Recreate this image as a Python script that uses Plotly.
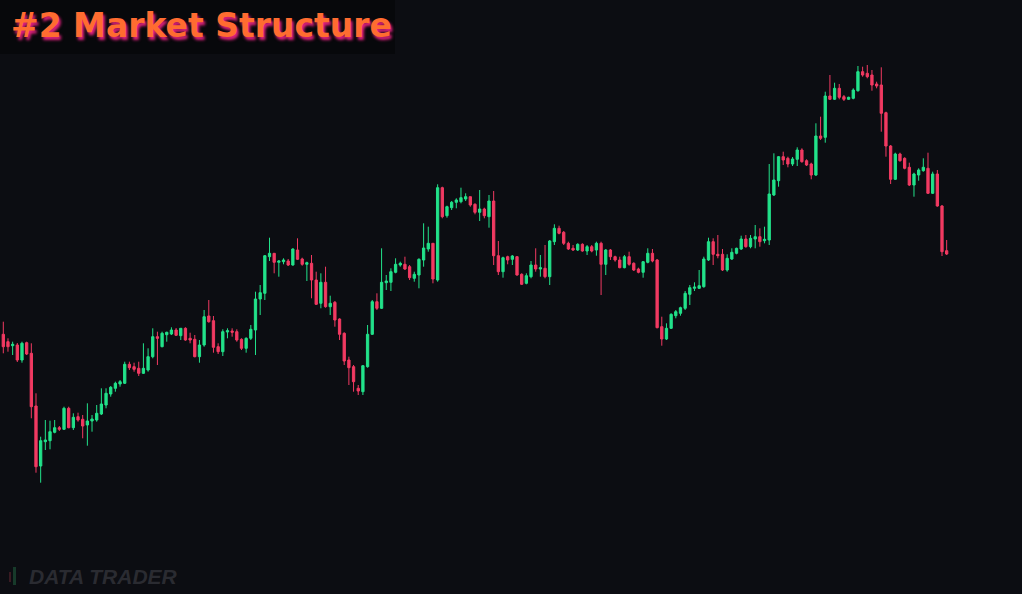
import plotly.graph_objects as go

# OHLC values (arbitrary price units)
opens = [265.7, 258.3, 254.3, 255, 240, 257.3, 246.7, 194, 134, 158.3,
         159.3, 167.7, 172.3, 170.7, 191.7, 172.3, 183.3, 180.7, 175, 179,
         180, 186, 195, 206, 211.7, 216, 216.7, 235.7, 233.3, 231.7,
         226.7, 230, 243.3, 263.3, 253.3, 265.3, 266, 270, 264.3, 271.7,
         261.7, 260.7, 243.3, 255, 284, 279.3, 253.3, 248.3, 268, 269,
         268.3, 260.7, 251.7, 261.7, 270, 301, 306.7, 343.3, 346.7, 337.7,
         338.3, 339, 335, 350, 341, 335.7, 336.7, 320, 296.7, 317.7,
         293.3, 297.7, 281, 266.7, 240, 233.3, 211.7, 208.3, 233.3, 265.7,
         298.3, 291.7, 317.3, 317.7, 327.7, 335, 335.7, 333.3, 321.7, 325,
         340, 351, 356.7, 320, 412.3, 384.3, 392.3, 397.7, 398.3, 401,
         403.3, 395.7, 387.7, 391, 383.3, 399, 344.3, 328.3, 343.3, 340.7,
         343.3, 325.7, 316.7, 323.3, 335, 331, 331.7, 323.3, 358.3, 371.7,
         367.7, 356.7, 351.7, 350, 355.7, 349, 353.3, 350, 356.7, 335.7,
         350, 343.3, 340, 332.3, 343.3, 336.7, 331, 327.7, 337.7, 346.7,
         340, 273.3, 261, 271.7, 284.3, 286.7, 291.7, 305.7, 311.7, 311.7,
         313.3, 340, 358.3, 345.7, 345.7, 330, 341, 346.7, 351, 361,
         353.3, 361, 363.3, 359.3, 360, 405, 419.3, 443.3, 441.7, 436,
         440.7, 450, 439.3, 436, 425, 464, 462.7, 504, 500.7, 511.7,
         503.3, 500.7, 501.7, 509.3, 528.3, 526.7, 525, 516, 515, 487.3,
         454, 420.7, 446, 441.7, 432.7, 415, 425, 429.3, 431.7, 406.7,
         426, 394, 349.3]
highs = [278.3, 261.7, 258.3, 257, 258.3, 258.3, 256.7, 206.7, 163.3, 180,
         179.3, 180, 174, 193.3, 193.3, 186.7, 187.3, 185, 196.7, 185,
         195, 211.7, 211.7, 214, 218.3, 220, 238.3, 238.3, 237.3, 238.3,
         256.7, 251.7, 271.7, 268.3, 268.3, 268.3, 272.7, 272, 271.7, 272.7,
         267.3, 265, 260, 290, 300, 284, 256.7, 270.7, 271.7, 271.7,
         270.7, 261.7, 262.7, 275, 308.3, 315, 345, 362.3, 346.7, 340,
         341.7, 341, 351.7, 361.7, 342.3, 338.3, 345, 328.3, 326.7, 333.3,
         304.3, 299, 281.7, 267.7, 243.3, 235, 215, 235, 275, 300,
         306.7, 351.7, 325, 331.7, 341.7, 338.3, 343.3, 335, 328.3, 341.7,
         376.7, 373.3, 356.7, 415.7, 413.3, 394.3, 399, 401.7, 412.3, 406.7,
         403.3, 396.7, 410, 392.3, 405, 409, 359, 343.3, 344.3, 345,
         344, 326.7, 326.7, 339, 351.7, 345, 355, 360, 375.7, 374.3,
         369, 358.3, 355, 356.7, 356.7, 355, 355, 358.3, 358.3, 351,
         351, 344.3, 343.3, 345, 348.3, 337.7, 332.3, 339, 351.7, 351,
         341, 283.3, 276.7, 286.7, 290, 293.3, 309, 315, 317.7, 330,
         343.3, 362.3, 361.7, 365, 351, 345.7, 351.7, 352.3, 364.3, 365,
         365, 375, 371.7, 373.3, 436, 446.7, 444, 448.3, 443.3, 443,
         452.7, 451.7, 440.7, 437.3, 476.7, 483.3, 508.3, 525, 517.3, 516,
         505, 503.3, 511.7, 534, 533.3, 535, 530, 518.3, 532.7, 488.3,
         455, 447.3, 447.3, 442.7, 437.3, 427.3, 431.7, 441.7, 447.3, 428.3,
         430, 395, 360]
lows = [246.7, 248.3, 245, 238, 237.3, 245, 181.7, 127.3, 117.3, 150,
        150.7, 166.7, 169, 170, 171.7, 170, 178.3, 161.7, 154.3, 168.3,
        178.3, 185, 191.7, 203.3, 208.3, 213.3, 216, 230, 228.3, 224,
        226, 228.3, 241.7, 235, 252.7, 258.3, 265, 264, 260, 259.3,
        256.7, 242.7, 237.3, 253.3, 277.3, 247.3, 246, 244, 261.7, 263.3,
        258.3, 250, 247.3, 260, 245, 285, 300, 339, 326.7, 323.3,
        335.7, 334, 334.3, 340, 334.3, 319, 301.7, 295, 291.7, 292.3,
        285, 273.3, 260, 235, 215, 208.3, 205, 205, 232.3, 265,
        290, 291, 310, 309, 326.7, 333.3, 330, 320, 318.3, 311.7,
        333.3, 348.3, 316.7, 318.3, 381.7, 382.3, 390, 391.7, 396.7, 399,
        393.3, 385.7, 379, 381.7, 372.3, 335, 325, 322.3, 335.7, 335,
        324.3, 315, 315.7, 321.7, 328.3, 323.3, 321.7, 315, 355, 365.7,
        355, 350, 349, 349, 348.3, 345, 347.7, 344.3, 305, 325,
        340, 338.3, 331.7, 331.7, 334.3, 329, 326.7, 322.3, 336.7, 337.7,
        271.7, 254.3, 260, 271, 281.7, 284.3, 290, 295, 309, 311,
        312.3, 339, 335, 341.7, 329, 328.3, 340, 345.7, 350, 352.3,
        351.7, 351.7, 353.3, 356.7, 355, 404, 413.3, 435, 432.7, 434,
        434, 437.3, 434, 420.7, 424, 460, 457.3, 500, 500, 500.7,
        499, 500, 500.7, 508.3, 523.3, 521.7, 509.3, 511.7, 468.3, 443.3,
        416, 420, 438.3, 430.7, 414, 403.3, 419.3, 428.3, 406, 406,
        393.3, 344, 345]
closes = [253.3, 253.3, 255.7, 240, 256.7, 246, 193.3, 133.3, 159.3, 160,
          168.3, 172.3, 170.7, 191.7, 172.3, 182.7, 180, 174, 179, 181,
          186.7, 196, 206.7, 212.7, 216.7, 218.3, 235.7, 232.3, 230.7, 226.7,
          231.7, 243.3, 263.3, 261.7, 266.7, 267.7, 270, 264.7, 271.7, 260,
          260, 243.3, 255, 283.3, 278.3, 252.7, 248.3, 268.3, 269.3, 267.7,
          260, 251.7, 261.7, 270.7, 301, 307.3, 344.3, 346.7, 337.7, 339,
          340, 335, 351, 340.7, 335.7, 337.3, 320, 295.7, 317.7, 293.3,
          296.7, 280, 265.7, 239, 232.3, 218.3, 209, 234.3, 265.7, 298.3,
          291.7, 317.7, 319, 328.3, 335.7, 336.7, 331, 322.3, 325.7, 340.7,
          352, 356.7, 321, 412.3, 383.3, 393.3, 397.7, 400, 402.3, 403.3,
          395, 387.7, 391, 384.3, 399, 344.3, 328.3, 342.3, 340, 344,
          325, 315.7, 324.3, 335, 331, 332.3, 323.3, 359, 371.7, 366.7,
          356.7, 351, 350, 355.7, 349, 353.3, 349, 356.7, 335.7, 350,
          343.3, 340, 332.3, 343.3, 335.7, 330, 327.7, 338.3, 346.7, 339,
          272.3, 261, 271.7, 285.7, 288.3, 292.3, 306.7, 312.3, 313, 314.3,
          341, 358.3, 345.7, 344.3, 330, 341.7, 347.7, 351.7, 361, 353.3,
          361.7, 363.3, 358.3, 360.7, 406, 420, 443.3, 440, 436, 441,
          450, 438.3, 435, 425, 464, 461.7, 504, 500.7, 511.7, 502.7,
          500.7, 502.7, 510, 528.3, 525, 523.3, 515, 514, 486.7, 454,
          420.7, 446, 439.3, 431.7, 415, 426, 430, 432.7, 406.7, 426,
          394, 348.3, 346]

idx = list(range(len(opens)))

BG = "#0c0d12"
GREEN = "#22e28a"
RED = "#f23a62"

fig = go.Figure()
fig.add_trace(go.Candlestick(
    x=idx, open=opens, high=highs, low=lows, close=closes,
    increasing=dict(line=dict(color=GREEN, width=1), fillcolor=GREEN),
    decreasing=dict(line=dict(color=RED, width=1), fillcolor=RED),
    whiskerwidth=0, hoverinfo="skip", showlegend=False,
))

# title backdrop
fig.add_shape(type="rect", xref="paper", yref="paper",
              x0=0, x1=395 / 1022, y0=1 - 54 / 594, y1=1,
              fillcolor="#07080b", line=dict(width=0), layer="below")

fig.add_annotation(
    text="#2 Market Structure", xref="paper", yref="paper",
    x=9 / 1022, y=1 - 4 / 594, xanchor="left", yanchor="top", showarrow=False,
    font=dict(family="DejaVu Sans", size=33, color="#ff6c30", weight="bold",
              shadow="2px 3px 3px #e0207e"),
)

# watermark
fig.add_shape(type="rect", xref="paper", yref="paper",
              x0=9 / 1022, x1=11 / 1022, y0=1 - 582 / 594, y1=1 - 572 / 594,
              fillcolor="#3a1a22", line=dict(width=0))
fig.add_shape(type="rect", xref="paper", yref="paper",
              x0=13 / 1022, x1=16 / 1022, y0=1 - 585 / 594, y1=1 - 567 / 594,
              fillcolor="#173a2a", line=dict(width=0))
fig.add_annotation(
    text="<b><i>DATA TRADER</i></b>", xref="paper", yref="paper",
    x=27 / 1022, y=1 - 576 / 594, xanchor="left", yanchor="middle", showarrow=False,
    font=dict(family="Liberation Sans", size=21, color="#2a2b31"),
)

fig.update_layout(
    width=1022, height=594,
    margin=dict(l=0, r=0, t=0, b=0),
    paper_bgcolor=BG, plot_bgcolor=BG,
    xaxis=dict(range=[-0.707, 218.13], visible=False, rangeslider=dict(visible=False),
               showgrid=False, zeroline=False),
    yaxis=dict(range=[6, 600], visible=False, showgrid=False, zeroline=False),
    showlegend=False,
)

fig.write_html(
    "out.html",
    config=dict(displayModeBar=False),
    post_script="document.body.style.margin='0';document.body.style.background='#0c0d12';"
                "document.body.style.overflow='hidden';",
)
